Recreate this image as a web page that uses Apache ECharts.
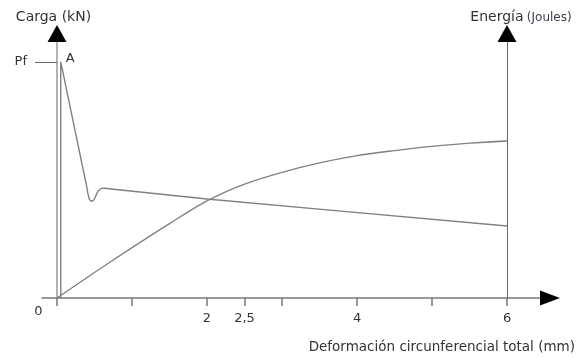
<!DOCTYPE html>
<html>
<head>
<meta charset="utf-8">
<script src="https://cdn.jsdelivr.net/npm/echarts@6/dist/echarts.min.js"></script>
<style>html,body{margin:0;padding:0;background:#fff}#c{width:576px;height:358px}</style>
</head>
<body>
<div id="c"></div>
<script>
// ---- data ----
const xTicks = [0, 1, 2, 2.5, 3, 4, 5, 6];
const xTickLabels = [2, 2.5, 4, 6];
const pfValue = 100;
const loadX = [0.05, 0.05, 0.396, 0.413, 0.433, 0.46, 0.487, 0.513, 0.547, 0.587, 0.627, 2.0, 3.6, 6.0];
const loadY = [0, 100, 47.2, 44.1, 41.7, 40.9, 41.3, 43.0, 45.3, 46.4, 46.5, 41.9, 37.3, 30.5];
const energyX = [0, 0.5, 1, 1.5, 2, 2.5, 3, 3.5, 4, 4.5, 5, 5.5, 6];
const energyY = [0, 10.8, 21.3, 31.5, 41.1, 48.2, 53.2, 57.2, 60.3, 62.4, 64.2, 65.6, 66.5];
const peakLabel = 'A';

const FONT = 'DejaVu Sans';
const xMin = -0.2, xMax = 6.573, yMax = 112;

const loadData = loadX.map((x, i) => {
  const d = { value: [x, loadY[i]] };
  if (i === 1) d.label = { show: true, formatter: peakLabel, position: 'right', offset: [0, -3], fontFamily: FONT, fontSize: 13, color: '#333' };
  return d;
});
const energyData = energyX.map((x, i) => [x, energyY[i]]);

const chart = echarts.init(document.getElementById('c'), null, { renderer: 'canvas' });
chart.setOption({
  animation: false,
  grid: { left: 42, right: 26, top: 33.5, bottom: 60, containLabel: false, outerBoundsMode: 'none' },
  xAxis: [
    {
      type: 'value', min: xMin, max: xMax, position: 'bottom',
      splitLine: { show: false },
      axisLine: { show: true, onZero: false, lineStyle: { color: '#777', width: 1.5 } },
      axisTick: { show: true, customValues: xTicks, length: 8, inside: false, lineStyle: { color: '#777', width: 1.5 } },
      axisLabel: { show: true, customValues: xTickLabels, margin: 14, fontFamily: FONT, fontSize: 13, color: '#333',
        formatter: v => String(v).replace('.', ',') }
    },
    {
      type: 'value', min: xMin, max: xMax, position: 'bottom',
      splitLine: { show: false },
      axisLine: { show: true, onZero: false, symbol: ['none', 'triangle'], symbolSize: [15, 20], lineStyle: { color: '#000', width: 0 } },
      axisTick: { show: false }, axisLabel: { show: false }
    }
  ],
  yAxis: [
    {
      type: 'value', min: 0, max: yMax, position: 'left',
      name: 'Carga (kN)', nameLocation: 'end', nameGap: 9,
      nameTextStyle: { fontFamily: FONT, fontSize: 14, color: '#333', padding: [0, 7, 0, 0] },
      splitLine: { show: false },
      axisLine: { show: true, onZero: true, onZeroAxisIndex: 0, lineStyle: { color: '#999', width: 1.5 } },
      axisTick: { show: true, customValues: [pfValue], length: 22, inside: false, lineStyle: { color: '#666', width: 1 } },
      axisLabel: { show: true, customValues: [pfValue], margin: 15, formatter: () => 'Pf', fontFamily: FONT, fontSize: 13, color: '#333' }
    },
    {
      type: 'value', min: 0, max: yMax, position: 'right', offset: -43,
      name: '{a|Energía} {b|(Joules)}', nameLocation: 'end', nameGap: 9,
      nameTextStyle: { padding: [0, 0, 0, 28], rich: {
        a: { fontFamily: FONT, fontSize: 14, color: '#333' },
        b: { fontFamily: FONT, fontSize: 12, color: '#3c4050' } } },
      splitLine: { show: false },
      axisLine: { show: true, onZero: false, lineStyle: { color: '#666', width: 1 } },
      axisTick: { show: false }, axisLabel: { show: false }
    },
    {
      type: 'value', min: 0, max: yMax, position: 'left',
      splitLine: { show: false },
      axisLine: { show: true, onZero: true, onZeroAxisIndex: 0, symbol: ['none', 'triangle'], symbolSize: [19, 17], lineStyle: { color: '#000', width: 0 } },
      axisTick: { show: false }, axisLabel: { show: false }
    },
    {
      type: 'value', min: 0, max: yMax, position: 'right', offset: -43,
      splitLine: { show: false },
      axisLine: { show: true, onZero: false, symbol: ['none', 'triangle'], symbolSize: [19, 17], lineStyle: { color: '#000', width: 0 } },
      axisTick: { show: false }, axisLabel: { show: false }
    }
  ],
  series: [
    {
      type: 'line', xAxisIndex: 0, yAxisIndex: 0, data: loadData,
      showSymbol: true, symbol: 'circle', symbolSize: 0,
      lineStyle: { color: '#808080', width: 1.4 }, itemStyle: { color: '#808080' },
      smooth: false
    },
    {
      type: 'line', xAxisIndex: 0, yAxisIndex: 1, data: energyData,
      showSymbol: false, symbol: 'none',
      lineStyle: { color: '#808080', width: 1.4 },
      smooth: 0.3
    }
  ],
  graphic: [
    { type: 'text', x: 38.5, y: 312, style: { text: '0', align: 'center', verticalAlign: 'middle', fontFamily: FONT, fontSize: 13, fill: '#333' } },
    { type: 'text', x: 575, y: 347, style: { text: 'Deformación circunferencial total (mm)', align: 'right', verticalAlign: 'middle', fontFamily: FONT, fontSize: 13.5, fill: '#333' } }
  ]
});
</script>
</body>
</html>
